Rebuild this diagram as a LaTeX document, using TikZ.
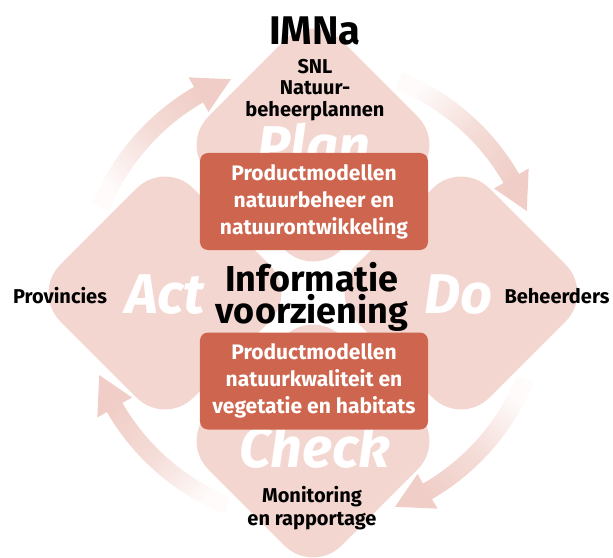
\documentclass[tikz,border=0pt]{standalone}
\usepackage{fontspec}
\setmainfont{Fira Sans}[Ligatures=NoCommon]
\definecolor{petal}{HTML}{F4D6D0}
\definecolor{arrowpink}{HTML}{F0CDC6}
\definecolor{modelbox}{HTML}{CE654E}

\begin{document}
\begin{tikzpicture}[x=1pt,y=1pt,
  leaf/.style={fill=petal,rounded corners=40pt},
  cycleword/.style={text=white,anchor=base,font=\fontsize{56}{56}\selectfont\bfseries\itshape},
  model/.style={fill=modelbox,text=white,rounded corners=8pt,minimum width=228pt,minimum height=97pt,align=center,font=\fontsize{21}{27}\selectfont\bfseries},
  party/.style={align=center,font=\fontsize{20}{21.5}\selectfont\bfseries}]
\useasboundingbox (-313,-264) rectangle (300,293);

\foreach \cx/\cy in {0/148,148/0,0/-148,-148/0}
  \fill[leaf] (\cx,\cy+133) -- (\cx+133,\cy) -- (\cx,\cy-133) -- (\cx-133,\cy) -- cycle;

\foreach \k [evaluate=\k as \ta using 68-90*\k, evaluate=\k as \tb using 30-90*\k,
             evaluate=\k as \tc using 21-90*\k, evaluate=\k as \sa using -135-90*\k] in {0,...,3}
  \shade[top color=arrowpink, bottom color=arrowpink!8!white, middle color=arrowpink!70!white, shading angle=\sa]
    (\ta:238) arc[start angle=\ta, end angle=\tb, radius=238] -- (\tb:249) -- (\tc:229) -- (\tb:209)
    -- (\tb:220) arc[start angle=\tb, end angle=\ta, radius=220] -- cycle;

\node[cycleword] (plan) at (1,127) {Plan};
\node[cycleword] (act) at (-148,-20) {Act};
\node[cycleword] (do) at (146,-20) {Do};
\node[cycleword] (check) at (2,-174) {Check};

\node[model] (planmodel) at (1,91.5) {Productmodellen\\natuurbeheer en\\natuurontwikkeling};
\node[model] (checkmodel) at (1,-88) {Productmodellen\\natuurkwaliteit en\\vegetatie en habitats};

\node[anchor=base,font=\fontsize{40}{40}\selectfont\bfseries] (imna) at (2,248) {IMNa};
\node[party] (snl) at (2,203) {SNL\\Natuur-\\beheerplannen};
\node[align=center,font=\fontsize{36}{32}\selectfont\bfseries] (info) at (-1,-4) {Informatie\\voorziening};
\node[party,anchor=base] (prov) at (-253,-10) {Provincies};
\node[party,anchor=base] (beh) at (244,-10) {Beheerders};
\node[party,font=\fontsize{20}{23}\selectfont\bfseries] (mon) at (-1,-215) {Monitoring\\en rapportage};
\end{tikzpicture}
\end{document}
